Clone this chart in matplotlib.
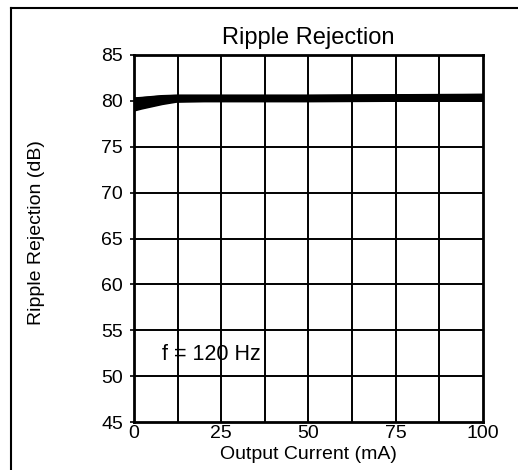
import matplotlib
matplotlib.use("Agg")
import matplotlib.pyplot as plt
from matplotlib.lines import Line2D

# curve (thick band)
current = [0, 2, 5, 8, 12, 20, 30, 50, 75, 100]
rr_upper = [80.3, 80.35, 80.45, 80.55, 80.6, 80.6, 80.6, 80.6, 80.65, 80.7]
rr_lower = [79.0, 79.2, 79.45, 79.7, 79.95, 80.0, 80.0, 80.0, 80.05, 80.05]

xticks = [0, 25, 50, 75, 100]
yticks = [45, 50, 55, 60, 65, 70, 75, 80, 85]
xgrid = [12.5, 25, 37.5, 50, 62.5, 75, 87.5]

plt.rcParams['font.family'] = ['Liberation Sans', 'DejaVu Sans']

fig = plt.figure(figsize=(5.18, 4.70), dpi=100)
ax = fig.add_axes([0.2587, 0.1021, 0.6737, 0.7809])

ax.set_xlim(0, 100)
ax.set_ylim(45, 85)
for x in xgrid:
    ax.axvline(x, color='black', lw=1.4, zorder=1)
for y in yticks[1:-1]:
    ax.axhline(y, color='black', lw=1.4, zorder=1)

ax.fill_between(current, rr_lower, rr_upper, color='black', lw=1.5, zorder=3)
ax.plot(current, rr_upper, color='black', lw=1.2, zorder=3)
ax.plot(current, rr_lower, color='black', lw=1.2, zorder=3)

ax.set_xticks(xticks)
ax.set_yticks(yticks)
ax.tick_params(axis='y', labelsize=14, length=3, width=1.2, color='black', pad=5)
ax.tick_params(axis='x', labelsize=14, length=0, pad=2)
for s in ax.spines.values():
    s.set_linewidth(2)

ax.set_xlabel('Output Current (mA)', fontsize=14, labelpad=3)
ax.set_ylabel('Ripple Rejection (dB)', fontsize=14)
ax.yaxis.set_label_coords(-0.255, 0.515)
ax.set_title('Ripple Rejection', fontsize=17, pad=8)

ax.text(8, 52.4, 'f = 120 Hz', fontsize=15.5, ha='left', va='center')

# scan border (top and left edges only)
fig.add_artist(Line2D([11/518, 1], [1-8/470, 1-8/470], color='black', lw=1.5, transform=fig.transFigure))
fig.add_artist(Line2D([11/518, 11/518], [0, 1-8/470], color='black', lw=1.5, transform=fig.transFigure))

fig.savefig('out.png', dpi=100)
